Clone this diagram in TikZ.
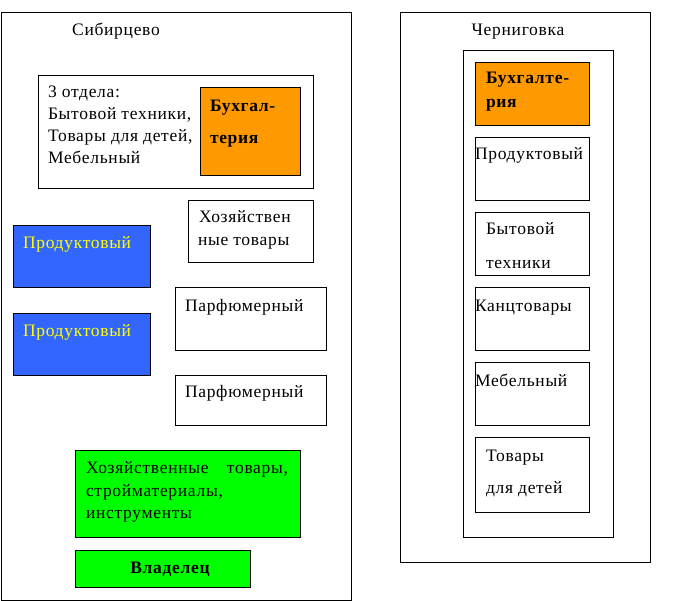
\documentclass[tikz,border=0pt]{standalone}
\usepackage{fontspec}
\setmainfont{Liberation Serif}[LetterSpace=4]
\definecolor{orng}{HTML}{FF9900}
\definecolor{blu}{HTML}{3366FF}
\definecolor{yel}{HTML}{FFFF00}
\definecolor{grn}{HTML}{00FF00}
\tikzset{
  box/.style={draw=black, line width=0.9pt, inner sep=0pt, outer sep=0pt, anchor=north west},
  txt/.style={inner sep=0pt, outer sep=0pt, anchor=base west, font=\fontsize{17.5}{22}\selectfont},
  btxt/.style={txt, font=\fontsize{17.5}{22}\selectfont\bfseries},
}
\newcommand{\bx}[6]{\node[box,fill=#6,minimum width=#4pt-#2pt,minimum height=#5pt-#3pt] (#1) at (#2,#3) {};}
\begin{document}
\begin{tikzpicture}[x=1pt,y=-1pt]
\useasboundingbox[fill=white] (0,0) rectangle (676,601);
% left area
\bx{lo}{1}{12}{351}{600}{white}
\node[txt,anchor=base] (lt) at (116,36) {Сибирцево};
\bx{li}{38}{75}{313}{188}{white}
\node[txt] (l1) at (48,98) {3 отдела:};
\node[txt] (l2) at (48,120) {Бытовой техники,};
\node[txt] (l3) at (48,142) {Товары для детей,};
\node[txt] (l4) at (48,164) {Мебельный};
\bx{lb}{200}{87}{300}{175}{orng}
\node[btxt] (lb1) at (210,112) {Бухгал-};
\node[btxt] (lb2) at (210,144) {терия};
\bx{hz}{188}{200}{313}{262}{white}
\node[txt] (hz1) at (199,223) {Хозяйствен};
\node[txt] (hz2) at (198,246) {ные товары};
\bx{p1}{13}{225}{150}{287}{blu}
\node[txt,text=yel] (p1t) at (23,248) {Продуктовый};
\bx{p2}{13}{313}{150}{375}{blu}
\node[txt,text=yel] (p2t) at (23,336) {Продуктовый};
\bx{f1}{175}{287}{326}{350}{white}
\node[txt] (f1t) at (185,311) {Парфюмерный};
\bx{f2}{175}{375}{326}{425}{white}
\node[txt] (f2t) at (185,397) {Парфюмерный};
\bx{g1}{75}{450}{300}{537}{grn}
\node[txt] (g1a) at (86,473) {\makebox[202pt][l]{Хозяйственные\hfill товары,}};
\node[txt] (g1b) at (86,496) {стройматериалы,};
\node[txt] (g1c) at (86,518) {инструменты};
\bx{g2}{75}{550}{250}{587}{grn}
\node[btxt,anchor=base] (g2t) at (170,573) {Владелец};
% right area
\bx{ro}{400}{12}{650}{562}{white}
\node[txt,anchor=base] (rt) at (518,36) {Черниговка};
\bx{ri}{463}{50}{613}{537}{white}
\bx{r1}{475}{62}{589}{125}{orng}
\node[btxt] (r1a) at (486,84) {Бухгалте-};
\node[btxt] (r1b) at (486,108) {рия};
\bx{r2}{475}{137}{589}{200}{white}
\node[txt] (r2t) at (475,160) {Продуктовый};
\bx{r3}{475}{212}{589}{275}{white}
\node[txt] (r3a) at (486,235) {Бытовой};
\node[txt] (r3b) at (486,268) {техники};
\bx{r4}{475}{287}{589}{350}{white}
\node[txt] (r4t) at (475,311) {Канцтовары};
\bx{r5}{475}{362}{589}{425}{white}
\node[txt] (r5t) at (475,386) {Мебельный};
\bx{r6}{475}{437}{589}{512}{white}
\node[txt] (r6a) at (486,461) {Товары};
\node[txt] (r6b) at (486,493) {для детей};
\end{tikzpicture}
\end{document}
